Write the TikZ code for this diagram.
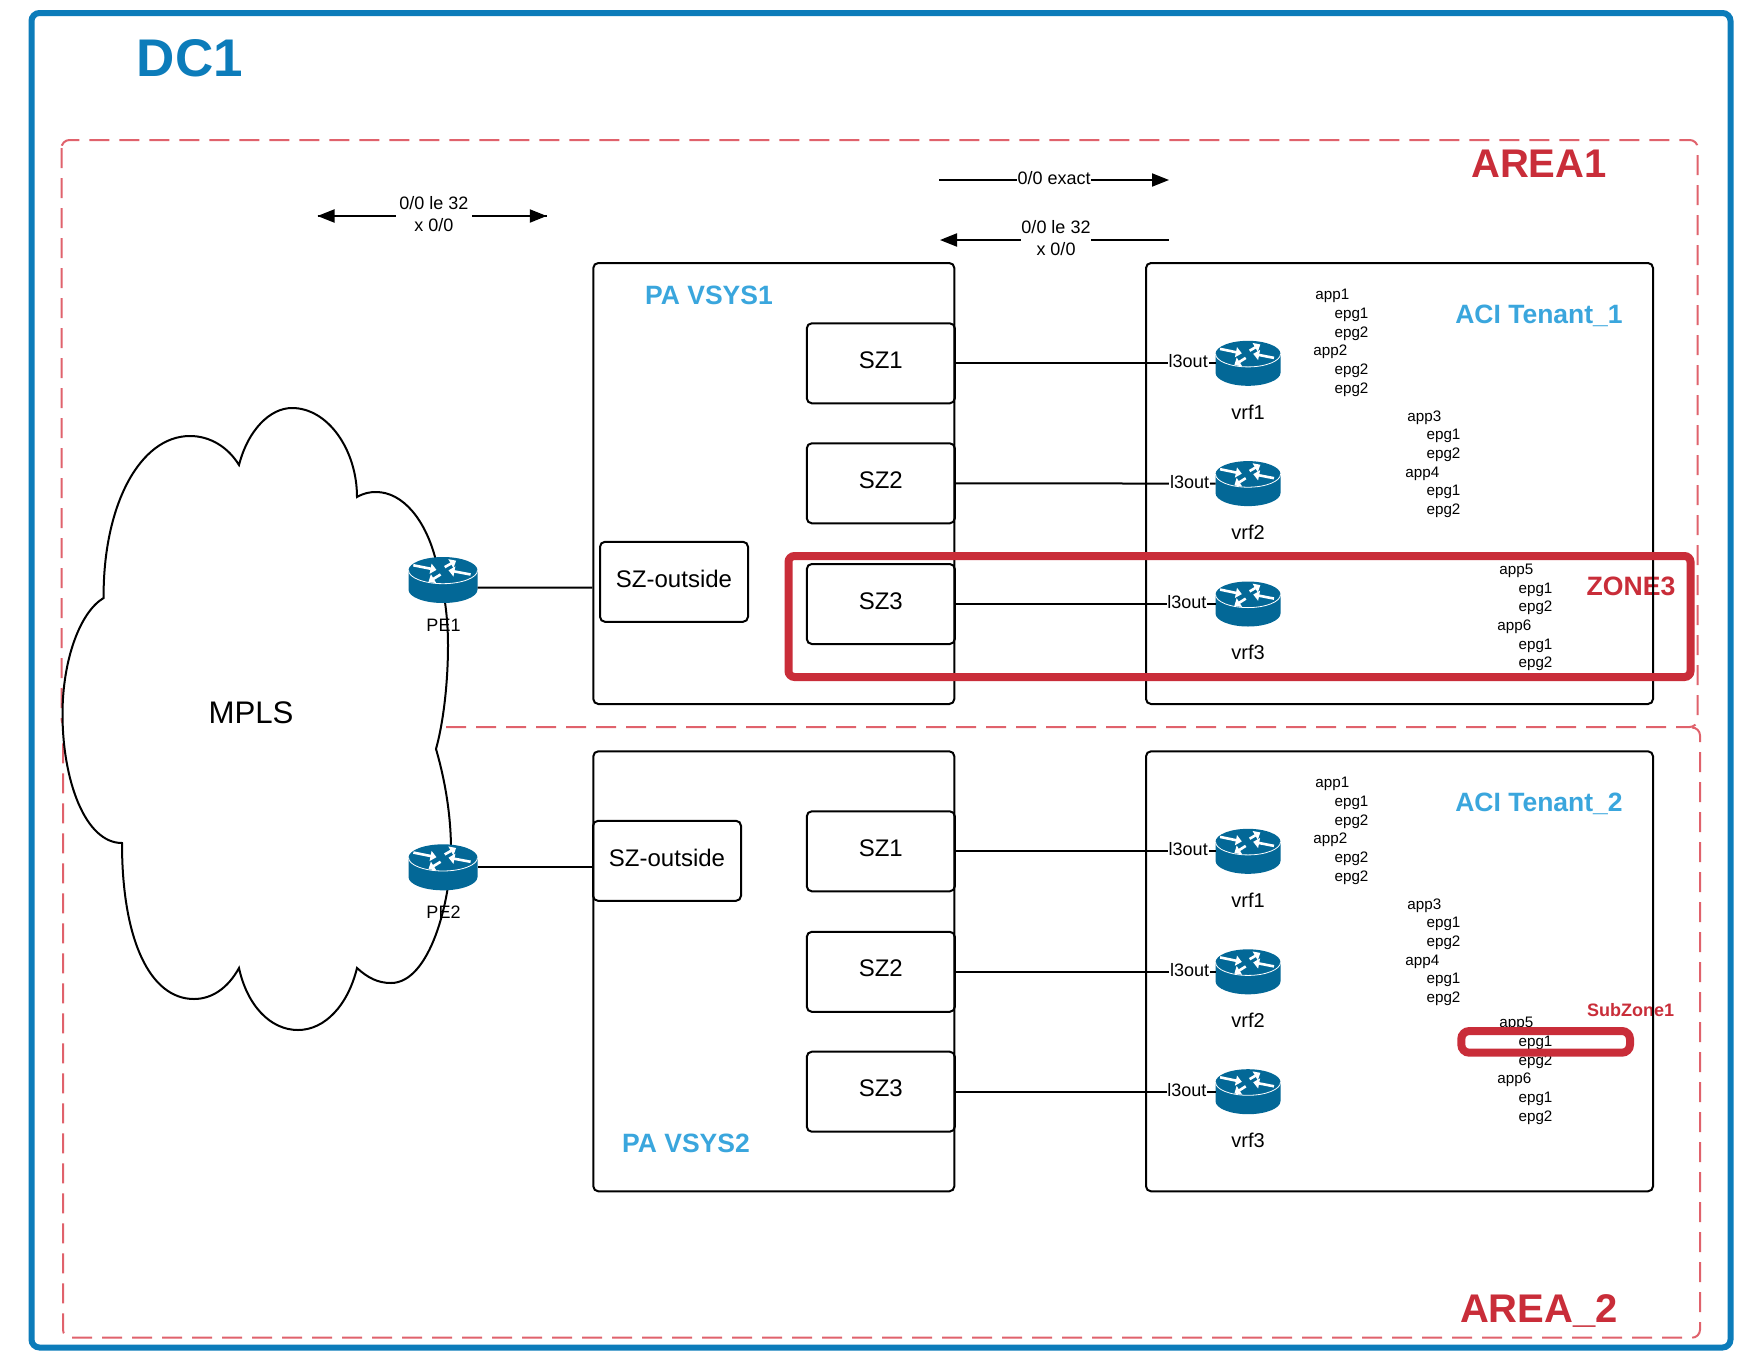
\documentclass[tikz,border=0pt]{standalone}
\usepackage{fontspec}
\setmainfont{Liberation Sans}
\usetikzlibrary{arrows.meta,calc}
\definecolor{dcblue}{HTML}{0C7CBA}
\definecolor{areared}{HTML}{E0626C}
\definecolor{zonered}{HTML}{C92D39}
\definecolor{titleblue}{HTML}{3AA6DD}
\definecolor{routerblue}{HTML}{036897}
\tikzset{
  outerbox/.style={draw=dcblue,line width=3pt,rounded corners=4pt},
  areabox/.style={draw=areared,line width=1pt,rounded corners=4pt,dash pattern=on 10pt off 5pt},
  zonebox/.style={draw=zonered,line width=4pt,rounded corners=3pt},
  plainbox/.style={draw=black,line width=1pt,rounded corners=2.5pt},
  szbox/.style={draw=black,line width=1pt,rounded corners=2.5pt,inner sep=0pt,
    minimum width=74pt,minimum height=40pt,font=\fontsize{12}{14}\selectfont,text height=8.6pt,text depth=3.6pt},
  outbox/.style={szbox,text depth=3pt},
  conn/.style={draw=black,line width=1pt},
  arrowline/.style={draw=black,line width=1pt},
  tip/.style={-{Triangle[length=8.5pt,width=6.5pt]}},
  ltip/.style={{Triangle[length=8.5pt,width=6.5pt]}-},
  small/.style={font=\fontsize{9}{10.6}\selectfont,inner sep=0pt,align=center},
  edgelabel/.style={small,fill=white,inner xsep=0.3pt,inner ysep=0pt},
  peerlabel/.style={edgelabel,inner xsep=1.5pt},
  l3label/.style={font=\fontsize{9}{11}\selectfont,fill=white,inner xsep=0.4pt,inner ysep=0pt,yshift=1pt},
  vrflabel/.style={font=\fontsize{10}{12}\selectfont,inner sep=0pt},
  petext/.style={font=\fontsize{9}{11}\selectfont,inner sep=0pt},
  apptext/.style={font=\fontsize{7.6}{9.33}\selectfont,inner sep=0pt,align=left,anchor=north west},
  bigred/.style={text=zonered,font=\fontsize{20}{24}\selectfont\bfseries,inner sep=0pt},
  titletext/.style={text=titleblue,font=\fontsize{13.25}{16}\selectfont\bfseries,inner sep=0pt},
  routerbox/.style={inner sep=0pt,outer sep=0pt,rectangle},
}
\newcommand{\routericon}[5]{%
  \begin{scope}[shift={(#2,#3)},x=#4pt,y=-#5pt,shift={(0,-0.5)}]
    \fill[routerblue] (-1,.29) .. controls (-1,.13) and (-.55,0) .. (0,0) .. controls (.55,0) and (1,.13) .. (1,.29)
      -- (1,.71) .. controls (1,.87) and (.55,1) .. (0,1) .. controls (-.55,1) and (-1,.87) .. (-1,.71) -- cycle;
    \draw[white,line width=.4pt] (-1,.29) .. controls (-1,.45) and (-.55,.58) .. (0,.58) .. controls (.55,.58) and (1,.45) .. (1,.29);
    \begin{scope}[white,line width=1.3pt,-{Triangle[length=3pt,width=5pt]}]
      \draw (-.86,.18) -- (-.19,.28);
      \draw (.80,.38) -- (.16,.29);
      \draw (.05,.22) -- (.38,.08);
      \draw (-.07,.38) -- (-.42,.54);
    \end{scope}
  \end{scope}
  \node[routerbox,minimum width=2*#4pt,minimum height=#5pt] (#1) at (#2,#3) {};
}
\newcommand{\appblockb}[7]{% name, x, y, app a, app b, line 5, line 6
  \node[apptext] (#1) at (#2,#3) {#4\\\hspace*{9.6pt}epg1\\\hspace*{9.6pt}epg2\\\hspace*{-1pt}#5\\\hspace*{9.6pt}#6\\\hspace*{9.6pt}#7};
}
\def\cloudpath{(103.6,598) .. controls (103,505) and (140,436) .. (190,436)
  .. controls (210,436) and (228,447) .. (239,465)
  .. controls (248,430) and (270,408) .. (292,408)
  .. controls (328,408) and (357,450) .. (357,497)
  .. controls (364,493) and (370,492) .. (376,492)
  .. controls (403,492) and (425,520) .. (435,557)
  .. controls (445,590) and (448,620) .. (448,645)
  .. controls (448,680) and (444,720) .. (436,749)
  .. controls (445,780) and (451,815) .. (451,850)
  .. controls (451,900) and (430,983) .. (391,983)
  .. controls (378,983) and (368,978) .. (357,968)
  .. controls (348,1005) and (325,1030) .. (298,1030)
  .. controls (270,1030) and (247,1005) .. (239,968)
  .. controls (228,988) and (212,999) .. (194,999)
  .. controls (150,999) and (122,940) .. (122,843)
  .. controls (85,843) and (62.5,780) .. (62.5,714)
  .. controls (62.5,660) and (80,612) .. (103.6,598) -- cycle}
\begin{document}
\begin{tikzpicture}[x=0.5pt,y=-0.5pt]
\useasboundingbox (0,0) rectangle (1760,1360);
\fill[white] (0,0) rectangle (1760,1360);
% frames
\draw[outerbox] (31.5,13) rectangle (1730.5,1347.5);
\draw[areabox] (61.5,140) rectangle (1697.7,727);
\draw[areabox] (1693,727.5) -- (1700,727.5) -- (1700,1337.7) -- (63,1337.7) -- (63,732);
% titles
\node[text=dcblue,font=\fontsize{26.5}{30}\selectfont\bfseries,inner sep=0pt] (dc) at (190,58.5) {DC1};
\node[bigred] (area1) at (1539,164) {AREA1};
\node[bigred] (area2) at (1539,1310.6) {AREA\_2};
\node[text=zonered,font=\fontsize{13.3}{16}\selectfont\bfseries,inner sep=0pt] (zonelabel) at (1631,586) {ZONE3};
\node[text=zonered,font=\fontsize{9}{11}\selectfont\bfseries,inner sep=0pt] (sublabel) at (1630.5,1010) {SubZone1};
\node[titletext] (pa1) at (709,295) {PA VSYS1};
\node[titletext] (pa2) at (686,1143.6) {PA VSYS2};
\node[titletext] (aci1) at (1539,316) {ACI Tenant\_1};
\node[titletext] (aci2) at (1539,803.5) {ACI Tenant\_2};
% containers
\node[plainbox,minimum width=180.5pt,minimum height=220.5pt,inner sep=0pt] (vsys1) at (773.8,483.5) {};
\node[plainbox,minimum width=180.5pt,minimum height=220pt,inner sep=0pt] (vsys2) at (773.8,971.3) {};
\node[plainbox,minimum width=253.5pt,minimum height=220.5pt,inner sep=0pt] (ten1) at (1399.5,483.5) {};
\node[plainbox,minimum width=253.5pt,minimum height=220pt,inner sep=0pt] (ten2) at (1399.5,971.3) {};
% security zones
\node[szbox] (a1) at (880.8,363.3) {SZ1};
\node[szbox] (a2) at (880.8,483.3) {SZ2};
\node[szbox] (a3) at (880.8,604) {SZ3};
\node[szbox] (b1) at (880.8,851.3) {SZ1};
\node[szbox] (b2) at (880.8,971.8) {SZ2};
\node[szbox] (b3) at (880.8,1091.7) {SZ3};
\node[outbox] (out1) at (674,581.8) {SZ-outside};
\node[outbox] (out2) at (667,860.8) {SZ-outside};
% cloud
\fill[white] \cloudpath;
\node[font=\fontsize{15.6}{18}\selectfont,inner sep=0pt] (mpls) at (251,713) {MPLS};
\node[petext] (pe1t) at (443.5,625) {PE1};
\node[petext] (pe2t) at (443.5,912.6) {PE2};
\draw[black,line width=1pt] \cloudpath;
% routers
\routericon{pe1}{443}{580}{17.25}{23}
\routericon{pe2}{443}{867.3}{17.25}{23}
\routericon{v11}{1248}{363.3}{16.25}{22.5}
\routericon{v12}{1248}{483.6}{16.25}{22.5}
\routericon{v13}{1248}{604}{16.25}{22.5}
\routericon{v21}{1248}{851.3}{16.25}{22.5}
\routericon{v22}{1248}{971.8}{16.25}{22.5}
\routericon{v23}{1248}{1091.7}{16.25}{22.5}
% vrf names
\node[vrflabel] (n11) at (1248,412) {vrf1};
\node[vrflabel] (n12) at (1248,532) {vrf2};
\node[vrflabel] (n13) at (1248,652) {vrf3};
\node[vrflabel] (n21) at (1248,900) {vrf1};
\node[vrflabel] (n22) at (1248,1020) {vrf2};
\node[vrflabel] (n23) at (1248,1140) {vrf3};
% links
\draw[conn] ([yshift=-3.85pt]pe1.east) -- (vsys1.west |- {$(pe1.east)+(0,7.7)$});
\draw[conn] (pe2.east) -- (vsys2.west |- pe2.east);
\draw[conn] (a1.east) -- node[l3label,pos=.895] (l11) {l3out} (v11.west);
\draw[conn] (a2.east) -- node[l3label,pos=.90] (l12) {l3out} (v12.west);
\draw[conn] (a3.east) -- node[l3label,pos=.89] (l13) {l3out} (v13.west);
\draw[conn] (b1.east) -- node[l3label,pos=.895] (l21) {l3out} (v21.west);
\draw[conn] (b2.east) -- node[l3label,pos=.90] (l22) {l3out} (v22.west);
\draw[conn] (b3.east) -- node[l3label,pos=.89] (l23) {l3out} (v23.west);
% prefix arrows
\coordinate (pl) at (317.5,216);
\coordinate (pr) at (546.8,216);
\draw[arrowline,ltip] (pl) -- (pr);
\draw[arrowline,tip] (pl) -- (pr);
\node[peerlabel] (peer) at (434,214) {0/0 le 32\\x 0/0};
\coordinate (e1) at (939.3,180);
\coordinate (e2) at (1169,180);
\draw[arrowline,tip] (e1) -- node[edgelabel,pos=.5,yshift=1pt] (exact) {0/0 exact} (e2);
\coordinate (d1) at (1168.7,240);
\coordinate (d2) at (940,240);
\draw[arrowline,tip] (d1) -- (d2);
\node[edgelabel] (le) at (1056,238) {0/0 le 32\\x 0/0};
% application lists
\appblockb{t1a}{1315}{289}{app1}{app2}{epg2}{epg2}
\appblockb{t1b}{1407}{410.3}{app3}{app4}{epg1}{epg2}
\appblockb{t1c}{1499}{563.7}{app5}{app6}{epg1}{epg2}
\appblockb{t2a}{1315}{777}{app1}{app2}{epg2}{epg2}
\appblockb{t2b}{1407}{898.3}{app3}{app4}{epg1}{epg2}
\appblockb{t2c}{1499}{1017}{app5}{app6}{epg1}{epg2}
% highlight frames
\draw[zonebox] (788.5,556) rectangle (1690.5,677);
\draw[zonebox,rounded corners=4pt] (1461.3,1031) rectangle (1630,1052.7);
\end{tikzpicture}
\end{document}
